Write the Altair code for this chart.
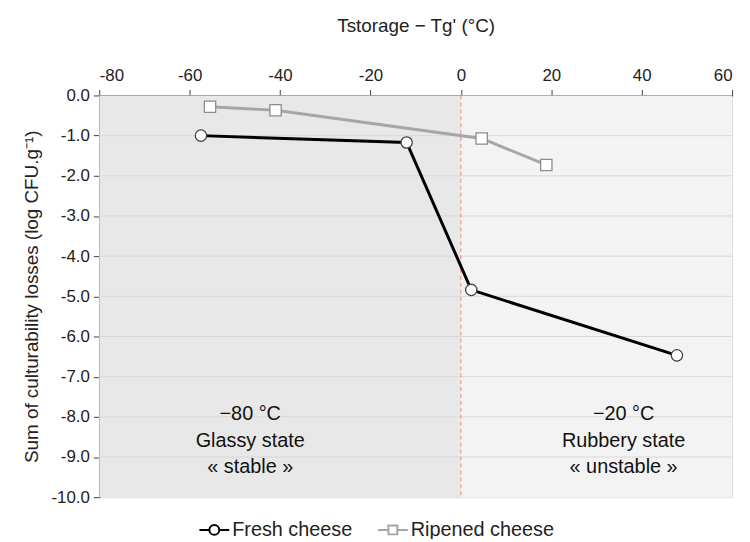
import altair as alt
import pandas as pd

# ---- data ----
series = ["Fresh cheese", "Ripened cheese"]
fresh_x = [-57.5, -12.0, 2.3, 47.8]
fresh_y = [-1.0, -1.17, -4.84, -6.47]
ripened_x = [-55.5, -41.0, 4.6, 18.9]
ripened_y = [-0.28, -0.37, -1.07, -1.73]

x_ticks = [-80, -60, -40, -20, 0, 20, 40, 60]
y_ticks = [0, -1, -2, -3, -4, -5, -6, -7, -8, -9, -10]

region_start = [-80, 0]
region_end = [0, 60]
region_name = ["glassy", "rubbery"]

ann_x = [-46.6, 36.0]
ann_text = ["\u221280 \u00b0C\nGlassy state\n\u00ab stable  \u00bb",
            "\u221220 \u00b0C\nRubbery state\n\u00ab unstable  \u00bb"]
tg_line = [0]

# ---- styling ----
line_colors = ["#000000", "#a6a6a6"]
marker_strokes = ["#404040", "#8c8c8c"]
region_fills = ["#e8e8e8", "#f3f3f3"]
FONT = "Liberation Sans"

df = pd.DataFrame({
    "series": [series[0]] * len(fresh_x) + [series[1]] * len(ripened_x),
    "x": fresh_x + ripened_x,
    "y": fresh_y + ripened_y,
})
regions = pd.DataFrame({"x": region_start, "x2": region_end, "name": region_name,
                        "y": [0, 0], "y2": [-10, -10]})
grid = pd.DataFrame({"y": y_ticks[1:-1]})
ann = pd.DataFrame({"x": ann_x, "text": ann_text, "y": [-7.68, -7.68]})
tg = pd.DataFrame({"x": tg_line})

xscale = alt.Scale(domain=[-80, 60], nice=False, zero=False)
yscale = alt.Scale(domain=[-10, 0], nice=False, zero=False)

xaxis = alt.Axis(orient="top", values=x_ticks, title="Tstorage \u2212 Tg' (\u00b0C)",
                 labelExpr="replace(format(datum.value, 'd'), '\u2212', '-')",
                 grid=False, tickSize=6, tickColor="#404040", domainColor="#404040",
                 domainWidth=1.5, labelFontSize=17, labelColor="#222222",
                 labelPadding=5, titleFontSize=19, titleFontWeight="normal",
                 titleColor="#222222", titlePadding=31, labelFont=FONT, titleFont=FONT)
yaxis = alt.Axis(values=y_ticks, title="Sum of culturability losses (log CFU.g\u207b\u00b9)",
                 labelExpr="replace(format(datum.value, '.1f'), '\u2212', '-')",
                 grid=False, tickSize=6, tickColor="#404040", domainColor="#404040",
                 domainWidth=1.5, labelFontSize=17, labelColor="#222222",
                 labelPadding=4, titleFontSize=19, titleFontWeight="normal",
                 titleColor="#222222", titlePadding=10, labelFont=FONT, titleFont=FONT)

bg = alt.Chart(regions).mark_rect().encode(
    x=alt.X("x:Q", scale=xscale, axis=xaxis),
    x2="x2:Q",
    y=alt.Y("y:Q", scale=yscale, axis=yaxis),
    y2="y2:Q",
    fill=alt.Fill("name:N", scale=alt.Scale(domain=region_name, range=region_fills), legend=None),
)

gridlines = alt.Chart(grid).mark_rule(color="#d9d9d9", strokeWidth=1).encode(
    y=alt.Y("y:Q", scale=yscale)
)

tgrule = alt.Chart(tg).mark_rule(color="#ff7f7f", strokeDash=[4, 3], strokeWidth=1).encode(
    x=alt.X("x:Q", scale=xscale)
)

annot = alt.Chart(ann).mark_text(fontSize=20, font=FONT, color="#111111", baseline="top",
                                 lineBreak="\n", lineHeight=27, align="center").encode(
    x=alt.X("x:Q", scale=xscale), y=alt.Y("y:Q", scale=yscale), text="text:N"
)

layers = [bg, gridlines, tgrule, annot]
shapes = ["circle", "square"]
for i, s in enumerate(series):
    base = alt.Chart(df).transform_filter(alt.datum.series == s)
    layers.append(base.mark_line(color=line_colors[i], strokeWidth=3).encode(
        x=alt.X("x:Q", scale=xscale), y=alt.Y("y:Q", scale=yscale)))
for i, s in enumerate(series):
    base = alt.Chart(df).transform_filter(alt.datum.series == s)
    layers.append(base.mark_point(shape=shapes[i], size=130, filled=False, fill="white",
                                  fillOpacity=1, stroke=marker_strokes[i], strokeWidth=1.3,
                                  opacity=1).encode(
        x=alt.X("x:Q", scale=xscale), y=alt.Y("y:Q", scale=yscale)))

# legend-only layer (no data drawn)
legend_paths = [
    "M-3,0L-1,0M1,0L3,0M1,0A1,1 0 1,1 -1,0A1,1 0 1,1 1,0Z",
    "M-3,0L-0.9,0M0.9,0L3,0M-0.9,-0.9L0.9,-0.9L0.9,0.9L-0.9,0.9Z",
]
legend_layer = alt.Chart(df).transform_filter("false").mark_point(
    filled=False, fill="white", fillOpacity=1, opacity=1, strokeWidth=2).encode(
    x=alt.X("x:Q", scale=xscale), y=alt.Y("y:Q", scale=yscale),
    color=alt.Color("series:N", scale=alt.Scale(domain=series, range=line_colors),
                    legend=alt.Legend(title=None, orient="none", direction="horizontal",
                                      legendX=106, legendY=428, labelFontSize=20,
                                      labelFont=FONT, labelColor="#222222", labelOffset=8,
                                      columnPadding=21, symbolSize=100,
                                      symbolFillColor="white", symbolStrokeWidth=2)),
    shape=alt.Shape("series:N", scale=alt.Scale(domain=series, range=legend_paths)),
)
layers.append(legend_layer)

chart = alt.layer(*layers).properties(
    width=638, height=405,
    padding={"left": 92, "top": 86, "right": 10, "bottom": 40},
    autosize=alt.AutoSizeParams(type="none"),
).configure_view(stroke="#595959", strokeWidth=1).configure(background="white")

chart.save("out.html", embed_options={"renderer": "svg", "actions": False})
